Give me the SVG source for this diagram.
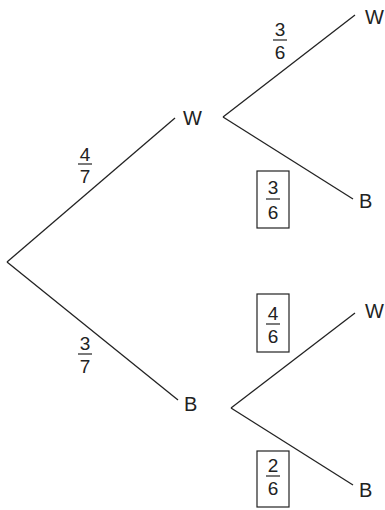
<svg xmlns="http://www.w3.org/2000/svg" width="385" height="510" viewBox="0 0 385 510">
<style>
.t{font-family:"Liberation Sans",Arial,sans-serif;font-size:19px;fill:#222;text-anchor:middle}
.l{font-family:"Liberation Sans",Arial,sans-serif;font-size:20px;fill:#222}
.e{stroke:#222;stroke-width:1.3;fill:none}
.bar{stroke:#222;stroke-width:1.2}
.box{fill:none;stroke:#222;stroke-width:1.2}
</style>
<rect width="385" height="510" fill="#fff"/>
<g id="connectors">
<line class="e" x1="7" y1="262" x2="175" y2="118"/>
<line class="e" x1="7" y1="262" x2="178" y2="400"/>
<line class="e" x1="223" y1="117" x2="355" y2="15"/>
<line class="e" x1="223" y1="117" x2="353" y2="199"/>
<line class="e" x1="231" y1="408" x2="355" y2="313"/>
<line class="e" x1="231" y1="408" x2="353" y2="485"/>
</g>
<g id="node-W1"><text class="l" x="183" y="125">W</text></g>
<g id="node-B1"><text class="l" x="184" y="411">B</text></g>
<g id="node-WW"><text class="l" x="365" y="24">W</text></g>
<g id="node-WB"><text class="l" x="359" y="208">B</text></g>
<g id="node-BW"><text class="l" x="365" y="318">W</text></g>
<g id="node-BB"><text class="l" x="359" y="497">B</text></g>
<g id="label-4-7">
<text class="t" x="85" y="161">4</text>
<line class="bar" x1="78" y1="164" x2="92" y2="164"/>
<text class="t" x="85" y="183">7</text>
</g>
<g id="label-3-7">
<text class="t" x="85" y="350">3</text>
<line class="bar" x1="78" y1="354" x2="92" y2="354"/>
<text class="t" x="85" y="373">7</text>
</g>
<g id="label-WW">
<text class="t" x="280" y="36">3</text>
<line class="bar" x1="273" y1="40" x2="287" y2="40"/>
<text class="t" x="280" y="59">6</text>
</g>
<g id="label-WB">
<rect class="box" x="257" y="171" width="32" height="57"/>
<text class="t" x="273" y="194">3</text>
<line class="bar" x1="266" y1="199" x2="280" y2="199"/>
<text class="t" x="273" y="219">6</text>
</g>
<g id="label-BW">
<rect class="box" x="257" y="294" width="32" height="58"/>
<text class="t" x="273" y="320">4</text>
<line class="bar" x1="266" y1="324" x2="280" y2="324"/>
<text class="t" x="273" y="343">6</text>
</g>
<g id="label-BB">
<rect class="box" x="257" y="451" width="32" height="56"/>
<text class="t" x="273" y="472">2</text>
<line class="bar" x1="266" y1="476" x2="280" y2="476"/>
<text class="t" x="273" y="495">6</text>
</g>
</svg>
